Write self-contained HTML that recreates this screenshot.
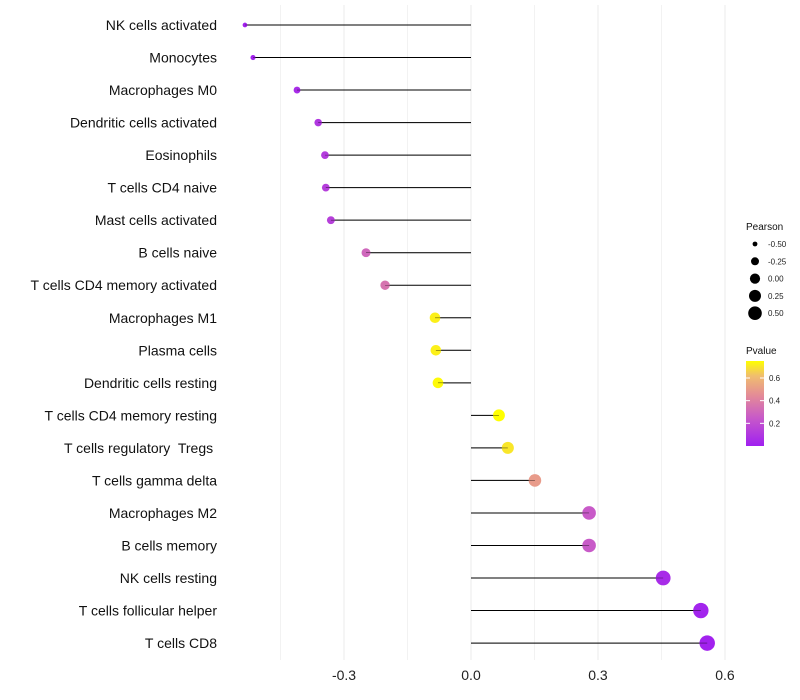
<!DOCTYPE html>
<html><head><meta charset="utf-8"><style>
body{margin:0;background:#fff;font-family:"Liberation Sans",sans-serif}
svg{display:block}
text{white-space:pre}
</style></head><body>
<svg id="chart" width="800" height="700"></svg>
<script>
const categories=["NK cells activated","Monocytes","Macrophages M0","Dendritic cells activated","Eosinophils","T cells CD4 naive","Mast cells activated","B cells naive","T cells CD4 memory activated","Macrophages M1","Plasma cells","Dendritic cells resting","T cells CD4 memory resting","T cells regulatory  Tregs ","T cells gamma delta","Macrophages M2","B cells memory","NK cells resting","T cells follicular helper","T cells CD8"];
const pearson=[-0.534,-0.515,-0.411,-0.361,-0.345,-0.343,-0.331,-0.248,-0.203,-0.085,-0.083,-0.078,0.066,0.087,0.151,0.279,0.279,0.454,0.543,0.558];
const pvalue=[0.01,0.01,0.05,0.1,0.12,0.13,0.14,0.3,0.35,0.72,0.72,0.74,0.75,0.7,0.5,0.25,0.25,0.05,0.02,0.01];
const xTicks=[-0.3,0,0.3,0.6];
const xTickLabels=["-0.3","0.0","0.3","0.6"];
const sizeLegend=[-0.5,-0.25,0,0.25,0.5];
const sizeLegendLabels=["-0.50","-0.25","0.00","0.25","0.50"];
const pTicks=[0.2,0.4,0.6];

const NS="http://www.w3.org/2000/svg";
const svg=document.getElementById('chart');
const x=v=>471+v*423.3;
const y=i=>25+i*32.53;
const rSize=v=>Math.sqrt(Math.max(1,27.6+42.75*v));
const stops=[[0,[160,32,240]],[0.25,[200,90,200]],[0.45,[228,140,150]],[0.62,[240,190,110]],[0.75,[255,255,0]]];
function col(p){p=Math.max(0,Math.min(0.75,p));for(let i=1;i<stops.length;i++){if(p<=stops[i][0]){const a=stops[i-1],b=stops[i],t=(p-a[0])/(b[0]-a[0]);return 'rgb('+a[1].map((c,k)=>Math.round(c+(b[1][k]-c)*t)).join(',')+')';}}return 'rgb(255,255,0)';}
function el(t,a,txt){const e=document.createElementNS(NS,t);for(const k in a)e.setAttribute(k,a[k]);if(txt!=null)e.textContent=txt;svg.appendChild(e);return e;}
[-0.45,-0.15,0.15,0.45].forEach(v=>{const g=el('line',{x1:x(v),x2:x(v),y1:5,y2:660,stroke:'#f2f2f2','stroke-width':1});

});
xTicks.forEach((v,i)=>{const g=el('line',{x1:x(v),x2:x(v),y1:5,y2:660,stroke:'#ebebeb','stroke-width':1});


const t=el('text',{x:x(v),y:680,'font-size':14,'text-anchor':'middle',fill:'#222'},xTickLabels[i]);

});
categories.forEach((c,i)=>{
const t=el('text',{x:217,y:y(i)+5,'font-size':14,'text-anchor':'end',fill:'#111'},c);


const l=el('line',{x1:x(0),x2:x(pearson[i]),y1:y(i),y2:y(i),stroke:'#000','stroke-width':1});


const d=el('circle',{cx:x(pearson[i]),cy:y(i),r:rSize(pearson[i])*1.08,fill:col(pvalue[i])});


const l2=el('line',{x1:x(0),x2:x(pearson[i]),y1:y(i),y2:y(i),stroke:'#000','stroke-width':0.6,'stroke-opacity':0.6});


});
const st=el('text',{x:746,y:230,'font-size':10,fill:'#111'},'Pearson');


sizeLegend.forEach((v,i)=>{const cy=244+i*17.3;
const c=el('circle',{cx:755,cy:cy,r:rSize(v)*0.97,fill:'#000'});


const t=el('text',{x:768,y:cy+3,'font-size':8,fill:'#222'},sizeLegendLabels[i]);

});
const ct=el('text',{x:746,y:354,'font-size':10,fill:'#111'},'Pvalue');


const defs=el('defs',{});
const lg=document.createElementNS(NS,'linearGradient');lg.setAttribute('id','pg');lg.setAttribute('x1','0');lg.setAttribute('y1','1');lg.setAttribute('x2','0');lg.setAttribute('y2','0');defs.appendChild(lg);
stops.forEach(s=>{const o=document.createElementNS(NS,'stop');o.setAttribute('offset',s[0]/0.75);o.setAttribute('stop-color',col(s[0]));lg.appendChild(o);});
const bar=el('rect',{x:746,y:361,width:18,height:85,fill:'url(#pg)'});


const pY=p=>446-(p/0.75)*85;
pTicks.forEach(p=>{el('line',{x1:746,x2:750,y1:pY(p),y2:pY(p),stroke:'#fff'});el('line',{x1:760,x2:764,y1:pY(p),y2:pY(p),stroke:'#fff'});
const t=el('text',{x:769,y:pY(p)+3,'font-size':8,fill:'#222'},p.toFixed(1));

});
</script>
</body></html>
